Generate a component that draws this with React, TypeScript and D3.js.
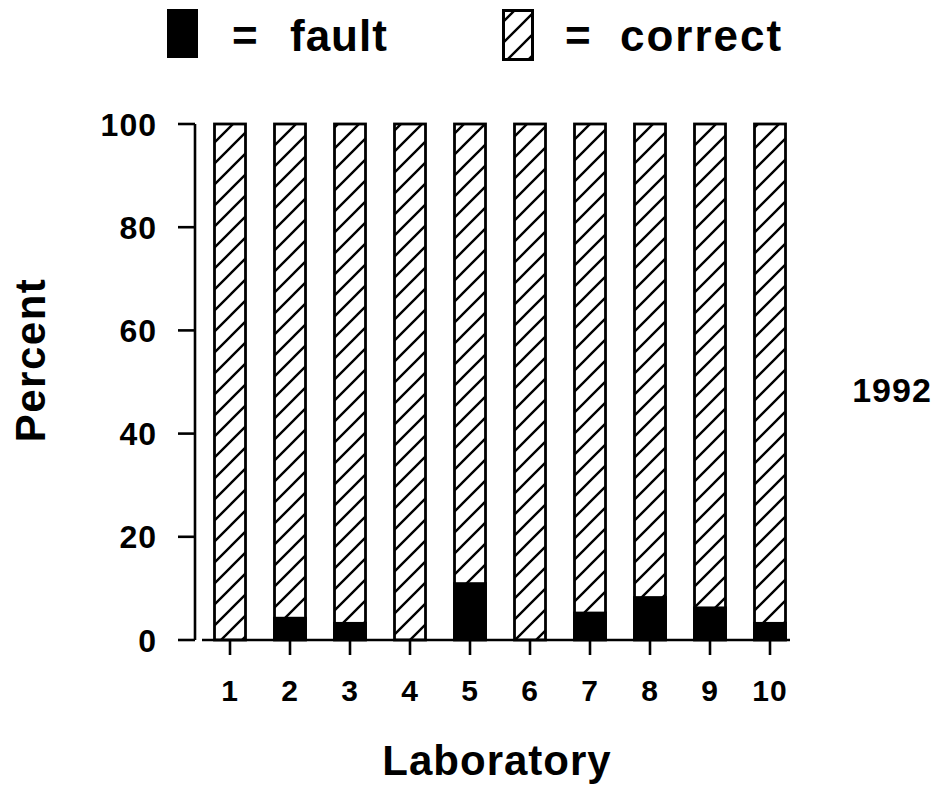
import React from "react";
import * as d3 from "d3";

const labs = ["1", "2", "3", "4", "5", "6", "7", "8", "9", "10"];
const faultPct = [0, 4.5, 3.5, 0, 11.2, 0, 5.5, 8.5, 6.5, 3.5];
const totalPct = [100, 100, 100, 100, 100, 100, 100, 100, 100, 100];
const yTicks = [0, 20, 40, 60, 80, 100];
const yearLabel = "1992";
const legendLabels = ["fault", "correct"];

const W = 937;
const H = 788;
const FONT = "'Liberation Sans', Arial, Helvetica, sans-serif";

export default function App() {
  const x = d3.scalePoint<string>().domain(labs).range([230, 770]);
  const y = d3.scaleLinear().domain([0, 100]).range([640, 124]);
  const bw = 31;

  return (
    <svg
      width={W}
      height={H}
      style={{ position: "absolute", left: 0, top: 0, background: "#fff" }}
      fontFamily={FONT}
      fontWeight="bold"
    >
      <defs>
        <pattern id="hatch" patternUnits="userSpaceOnUse" width={21} height={21}>
          <path
            d="M0,21 L21,0 M-6,6 L6,-6 M15,27 L27,15"
            stroke="#000"
            strokeWidth={2.4}
            fill="none"
          />
        </pattern>
      </defs>

      {/* Legend */}
      <rect x={167} y={9} width={31} height={49} fill="#000" />
      <text x={232} y={51} fontSize={44}>=</text>
      <text x={290} y={51} fontSize={44} letterSpacing={1}>{legendLabels[0]}</text>
      <rect x={503.5} y={10.5} width={29} height={49} fill="url(#hatch)" stroke="#000" strokeWidth={3} />
      <text x={565} y={51} fontSize={44}>=</text>
      <text x={620} y={51} fontSize={44} letterSpacing={2}>{legendLabels[1]}</text>

      {/* Y axis */}
      <line x1={195} x2={195} y1={y(100)} y2={y(0)} stroke="#000" strokeWidth={2.6} />
      {yTicks.map((t) => (
        <g key={t}>
          <line x1={178} x2={195} y1={y(t)} y2={y(t)} stroke="#000" strokeWidth={2.6} />
          <text x={157} y={y(t) + 11.5} fontSize={32} textAnchor="end" letterSpacing={1}>
            {t}
          </text>
        </g>
      ))}

      {/* X axis */}
      <line x1={202} x2={790} y1={y(0)} y2={y(0)} stroke="#000" strokeWidth={2.6} />
      {labs.map((l) => (
        <g key={l}>
          <line x1={x(l)} x2={x(l)} y1={y(0)} y2={y(0) + 15} stroke="#000" strokeWidth={2.6} />
          <text x={x(l)} y={701} fontSize={30} textAnchor="middle" letterSpacing={1}>
            {l}
          </text>
        </g>
      ))}

      {/* Bars */}
      {labs.map((l, i) => {
        const cx = x(l) as number;
        return (
          <g key={l}>
            <rect
              x={cx - bw / 2}
              y={y(totalPct[i])}
              width={bw}
              height={y(0) - y(totalPct[i])}
              fill="url(#hatch)"
              stroke="#000"
              strokeWidth={2.8}
            />
            {faultPct[i] > 0 && (
              <rect
                x={cx - bw / 2 - 1.4}
                y={y(faultPct[i])}
                width={bw + 2.8}
                height={y(0) - y(faultPct[i])}
                fill="#000"
              />
            )}
          </g>
        );
      })}

      {/* Axis titles */}
      <text x={497} y={775} fontSize={42} textAnchor="middle" letterSpacing={1}>
        Laboratory
      </text>
      <text
        transform="translate(45,360) rotate(-90)"
        fontSize={42}
        textAnchor="middle"
        letterSpacing={1.5}
      >
        Percent
      </text>
      <text x={892} y={402} fontSize={34} textAnchor="middle" letterSpacing={1}>
        {yearLabel}
      </text>
    </svg>
  );
}
